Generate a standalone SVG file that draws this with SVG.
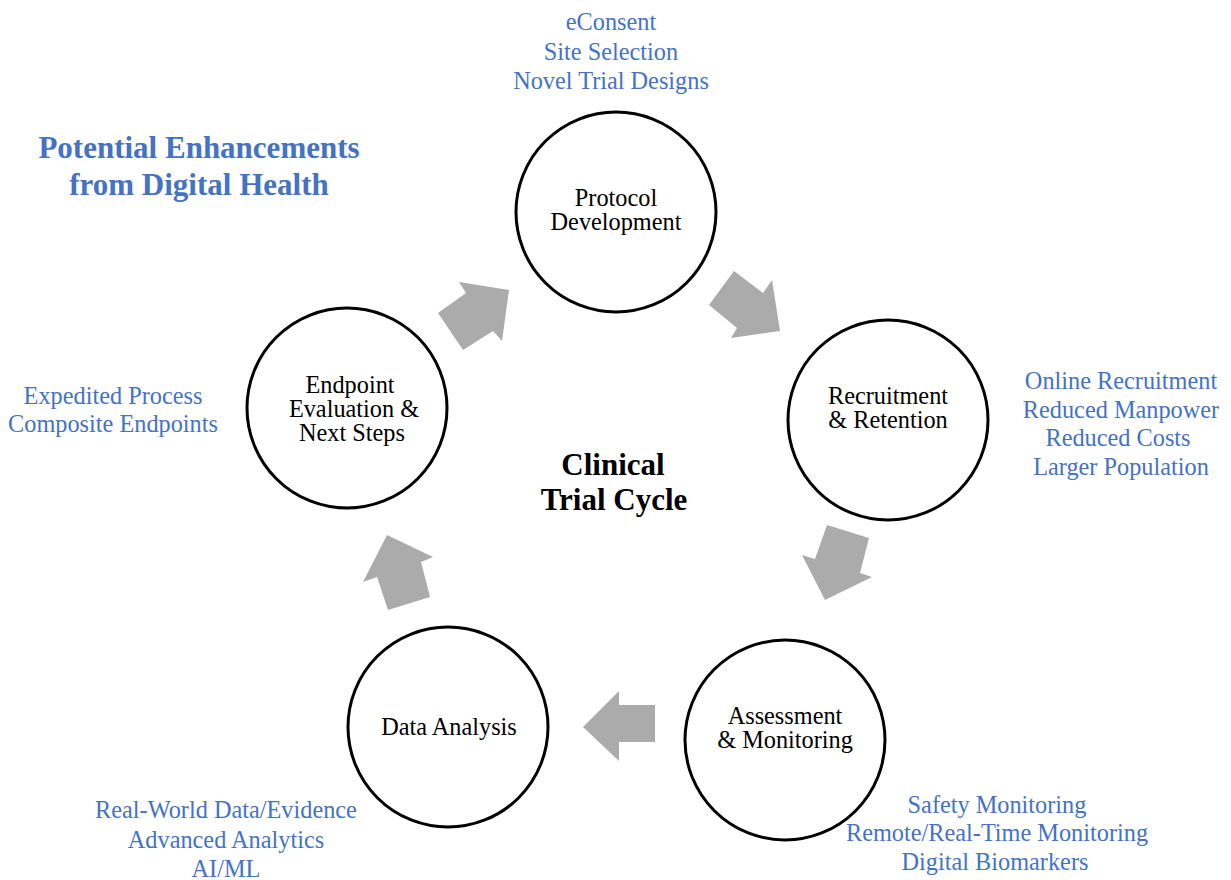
<svg xmlns="http://www.w3.org/2000/svg" width="1231" height="880" viewBox="0 0 1231 880">
<style>
.node circle{fill:#fff;stroke:#000;stroke-width:3}
.nl{font-family:"Liberation Serif","Times New Roman",serif;font-size:24.3px;fill:#000;text-anchor:middle}
.bl{font-family:"Liberation Serif","Times New Roman",serif;font-size:24.3px;fill:#4472c4;text-anchor:middle}
.title{font-family:"Liberation Serif","Times New Roman",serif;font-size:31px;font-weight:bold;fill:#4472c4;text-anchor:middle}
.center{font-family:"Liberation Serif","Times New Roman",serif;font-size:31px;font-weight:bold;fill:#000;text-anchor:middle}
.arrow{fill:#ababab}
</style>
<rect width="1231" height="880" fill="#fff"/>
<g id="connectors">
<polygon class="arrow" points="509,290 459,282 466,293 438,313 463,350 493,331 502,341"/>
<polygon class="arrow" points="734,271 763,293 772,280 780,331 731,338 737,328 709,305"/>
<polygon class="arrow" points="827,525 869,538 860,573 872,577 825,600 802,555 815,559"/>
<polygon class="arrow" points="583,727 619,691 619,705 655,705 655,742 619,742 619,761"/>
<polygon class="arrow" points="387,535 433,557 421,562 430,597 388,610 377,577 363,582"/>
</g>
<g id="node-protocol" class="node">
<circle cx="616" cy="212" r="100"/>
<text class="nl"><tspan x="616" y="206">Protocol</tspan><tspan x="616" y="230">Development</tspan></text>
</g>
<g id="node-recruitment" class="node">
<circle cx="888" cy="420" r="100"/>
<text class="nl"><tspan x="888" y="404">Recruitment</tspan><tspan x="888" y="428">&amp; Retention</tspan></text>
</g>
<g id="node-assessment" class="node">
<circle cx="785" cy="740" r="100"/>
<text class="nl"><tspan x="785" y="724">Assessment</tspan><tspan x="785" y="748">&amp; Monitoring</tspan></text>
</g>
<g id="node-data" class="node">
<circle cx="448" cy="727" r="100"/>
<text class="nl" x="449" y="735">Data Analysis</text>
</g>
<g id="node-endpoint" class="node">
<circle cx="347" cy="408" r="100"/>
<text class="nl"><tspan x="350" y="393">Endpoint</tspan><tspan x="354" y="417">Evaluation &amp;</tspan><tspan x="352" y="441">Next Steps</tspan></text>
</g>
<g id="title">
<text class="title"><tspan x="199" y="158">Potential Enhancements</tspan><tspan x="199" y="195">from Digital Health</tspan></text>
</g>
<g id="center-label">
<text class="center"><tspan x="613" y="475">Clinical</tspan><tspan x="614" y="510">Trial Cycle</tspan></text>
</g>
<g id="enh-protocol">
<text class="bl"><tspan x="611" y="30">eConsent</tspan><tspan x="611" y="60">Site Selection</tspan><tspan x="611" y="89">Novel Trial Designs</tspan></text>
</g>
<g id="enh-recruitment">
<text class="bl"><tspan x="1121" y="389">Online Recruitment</tspan><tspan x="1121" y="418">Reduced Manpower</tspan><tspan x="1118" y="446">Reduced Costs</tspan><tspan x="1121" y="475">Larger Population</tspan></text>
</g>
<g id="enh-assessment">
<text class="bl"><tspan x="997" y="813">Safety Monitoring</tspan><tspan x="997" y="841">Remote/Real-Time Monitoring</tspan><tspan x="995" y="870">Digital Biomarkers</tspan></text>
</g>
<g id="enh-data">
<text class="bl"><tspan x="226" y="818">Real-World Data/Evidence</tspan><tspan x="226" y="848">Advanced Analytics</tspan><tspan x="226" y="877">AI/ML</tspan></text>
</g>
<g id="enh-endpoint">
<text class="bl"><tspan x="113" y="404">Expedited Process</tspan><tspan x="113" y="432">Composite Endpoints</tspan></text>
</g>
</svg>
